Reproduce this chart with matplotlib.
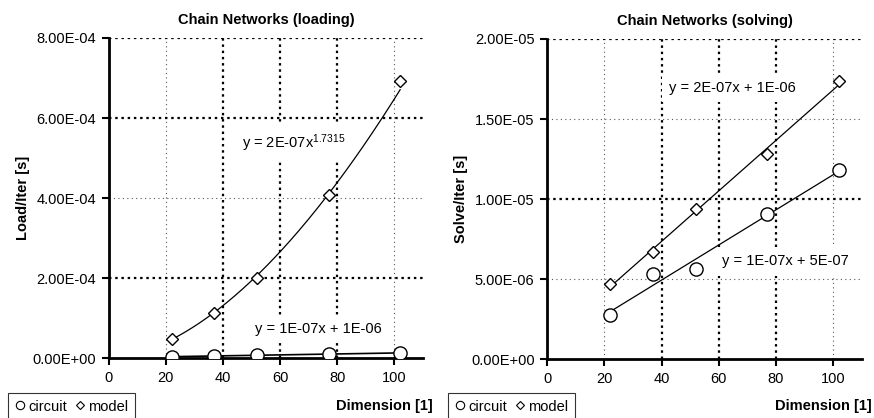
import numpy as np
import matplotlib
matplotlib.use("Agg")
import matplotlib.pyplot as plt
from matplotlib.lines import Line2D
from matplotlib.ticker import FuncFormatter

plt.rcParams["font.family"] = ["Liberation Sans", "DejaVu Sans"]
plt.rcParams["mathtext.fontset"] = "custom"
plt.rcParams["mathtext.rm"] = "Liberation Sans"
plt.rcParams["mathtext.it"] = "Liberation Sans:italic"

# chain network dimensions
dims = [22, 37, 52, 77, 102]

# loading time per iteration [s]
load_circuit = [3.0e-6, 6.0e-6, 6.5e-6, 9.5e-6, 1.3e-5]
load_model = [4.75e-5, 1.12e-4, 2.0e-4, 4.08e-4, 6.92e-4]

# solving time per iteration [s]
solve_circuit = [2.75e-6, 5.3e-6, 5.65e-6, 9.05e-6, 1.18e-5]
solve_model = [4.7e-6, 6.67e-6, 9.4e-6, 1.28e-5, 1.74e-5]

FS = 10.5
LBL_BOX = dict(boxstyle="square,pad=0.5", facecolor="white", edgecolor="none")


def _sci(v, pos):
    return f"{v:.2E}"


def _style(ax, ymax, ystep, thick_x, thick_y, ylabel, title):
    ax.set_xlim(0, 110)
    ax.set_ylim(0, ymax)
    ax.set_xticks(np.arange(0, 101, 20))
    yt = np.arange(0, ymax + ystep / 2, ystep)
    ax.set_yticks(yt)
    ax.yaxis.set_major_formatter(FuncFormatter(_sci))
    ax.tick_params(labelsize=FS, direction="out", length=5, width=1.5,
                   colors="black", pad=4)
    for sp in ("top", "right"):
        ax.spines[sp].set_visible(False)
    for sp in ("left", "bottom"):
        ax.spines[sp].set_linewidth(2.0)
    # Excel-style dotted grid (some lines render heavier than others)
    for x in range(20, 101, 20):
        if x in thick_x:
            ax.axvline(x, color="black", lw=1.6, ls=(0, (1.1, 1.7)), zorder=1)
        else:
            ax.axvline(x, color="#555555", lw=0.8, ls=(0, (1.0, 3.0)), zorder=1)
    for y in yt[1:]:
        if any(np.isclose(y, t) for t in thick_y):
            ax.axhline(y, color="black", lw=1.6, ls=(0, (1.1, 1.7)), zorder=1)
        else:
            ax.axhline(y, color="#555555", lw=0.8, ls=(0, (1.0, 3.0)), zorder=1)
    ax.set_title(title, fontsize=FS, fontweight="bold", pad=10)
    ax.set_ylabel(ylabel, fontsize=FS, fontweight="bold", labelpad=2)


fig = plt.figure(figsize=(8.74, 4.18), dpi=100)
axL = fig.add_axes([0.1243, 0.1435, 0.3597, 0.7656])
axR = fig.add_axes([0.6259, 0.1411, 0.3603, 0.7656])

x = np.array(dims, dtype=float)
xs = np.linspace(x.min(), x.max(), 200)
mk_c = dict(marker="o", ms=9.5, mfc="white", mec="black", mew=1.0, ls="none", zorder=5)
mk_m = dict(marker="D", ms=6.5, mfc="white", mec="black", mew=1.0, ls="none", zorder=5)

# --- loading
_style(axL, 8e-4, 2e-4, [40, 60, 80], [8e-4, 6e-4, 2e-4],
       "Load/Iter [s]", "Chain Networks (loading)")
b, loga = np.polyfit(np.log(x), np.log(load_model), 1)
axL.plot(xs, np.exp(loga) * xs ** b, color="black", lw=0.9, zorder=3)
p = np.polyfit(x, load_circuit, 1)
axL.plot(xs, np.polyval(p, xs), color="black", lw=1.2, zorder=3)
axL.plot(dims, load_model, **mk_m)
axL.plot(dims, load_circuit, **mk_c)
axL.text(46.5, 5.38e-4, r"y = 2E-07x$^{\mathrm{1.7315}}$", fontsize=FS,
         va="center", bbox=LBL_BOX, zorder=2)
axL.text(51.2, 7.25e-5, "y = 1E-07x + 1E-06", fontsize=FS, va="center",
         bbox=LBL_BOX, zorder=2)

# --- solving
_style(axR, 2e-5, 5e-6, [40, 60, 80], [2e-5, 1e-5],
       "Solve/Iter [s]", "Chain Networks (solving)")
for ys in (solve_model, solve_circuit):
    p = np.polyfit(x, ys, 1)
    axR.plot(xs, np.polyval(p, xs), color="black", lw=0.9, zorder=3)
axR.plot(dims, solve_model, **mk_m)
axR.plot(dims, solve_circuit, **mk_c)
axR.text(42.7, 1.694e-5, "y = 2E-07x + 1E-06", fontsize=FS, va="center",
         bbox=LBL_BOX, zorder=2)
axR.text(61.0, 6.1e-6, "y = 1E-07x + 5E-07", fontsize=FS, va="center",
         bbox=LBL_BOX, zorder=2)

# x labels and legends below each panel
handles = [Line2D([], [], marker="o", ms=6, mfc="white", mec="black", mew=0.8, ls="none"),
           Line2D([], [], marker="D", ms=4.5, mfc="white", mec="black", mew=0.8, ls="none")]
for xr, xleg in ((433 / 874, 8 / 874), (872 / 874, 448 / 874)):
    fig.text(xr, 1 - 406 / 418, "Dimension [1]", fontsize=FS, fontweight="bold",
             ha="right", va="center")
    leg = fig.legend(handles, ["circuit", "model"], loc="upper left",
                     bbox_to_anchor=(xleg, 1 - 393 / 418), ncol=2, fontsize=FS,
                     frameon=True, fancybox=False, handlelength=0.7,
                     handletextpad=0.25, columnspacing=0.5, borderpad=0.45,
                     borderaxespad=0)
    leg.get_frame().set_edgecolor("black")
    leg.get_frame().set_linewidth(0.8)

fig.savefig("out.png", dpi=100)
